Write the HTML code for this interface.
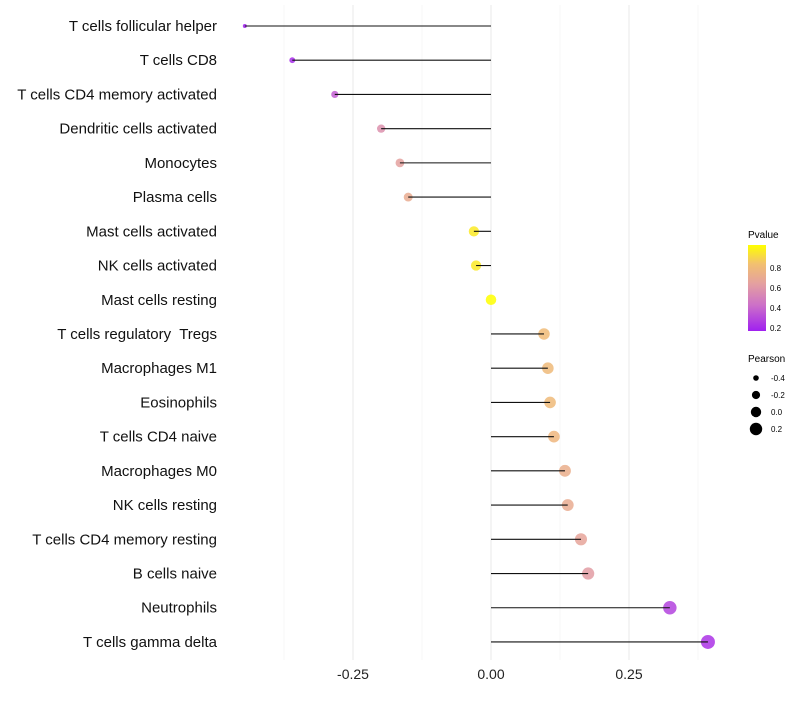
<!DOCTYPE html>
<html><head><meta charset="utf-8"><style>
body{margin:0;background:#fff;font-family:"Liberation Sans",sans-serif;}
text{white-space:pre;}
</style></head><body>
<svg id="c" width="800" height="700" xmlns="http://www.w3.org/2000/svg" font-family="Liberation Sans, sans-serif">
<defs><linearGradient id="pg" x1="0" y1="1" x2="0" y2="0">
<stop offset="0" stop-color="#a020f0"/><stop offset="0.3" stop-color="#cc70c8"/><stop offset="0.55" stop-color="#e4a0a0"/><stop offset="0.78" stop-color="#f2c070"/><stop offset="1" stop-color="#ffff00"/></linearGradient></defs>
<g id="grid"></g><g id="marks"></g><g id="ylab"></g><g id="xlab"></g>
<g>
<text x="748" y="238" font-size="10">Pvalue</text>
<rect x="748" y="245" width="18" height="86" fill="url(#pg)"/>
<text x="770" y="271" font-size="8">0.8</text><text x="770" y="291" font-size="8">0.6</text>
<text x="770" y="311" font-size="8">0.4</text><text x="770" y="331" font-size="8">0.2</text>
</g>
<g>
<text x="748" y="362" font-size="10">Pearson</text>
<circle cx="756" cy="378" r="2.8"/><text x="771" y="381" font-size="8">-0.4</text>
<circle cx="756" cy="395" r="4.1"/><text x="771" y="398" font-size="8">-0.2</text>
<circle cx="756" cy="412" r="5.2"/><text x="771" y="415" font-size="8">0.0</text>
<circle cx="756" cy="429" r="6.2"/><text x="771" y="432" font-size="8">0.2</text>
</g>
</svg>
<script>
const categories=["T cells follicular helper","T cells CD8","T cells CD4 memory activated","Dendritic cells activated","Monocytes","Plasma cells","Mast cells activated","NK cells activated","Mast cells resting","T cells regulatory  Tregs","Macrophages M1","Eosinophils","T cells CD4 naive","Macrophages M0","NK cells resting","T cells CD4 memory resting","B cells naive","Neutrophils","T cells gamma delta"];
const pearson=[-0.446,-0.36,-0.283,-0.199,-0.165,-0.150,-0.031,-0.027,0.0,0.096,0.103,0.107,0.114,0.134,0.139,0.163,0.176,0.324,0.393];
const pvalue=[0.12,0.2,0.35,0.55,0.62,0.68,0.93,0.93,0.99,0.78,0.77,0.77,0.75,0.7,0.68,0.64,0.6,0.27,0.22];
const xticks=[-0.25,0,0.25];
const xtickLabels=["-0.25","0.00","0.25"];
const NS="http://www.w3.org/2000/svg";
const x=v=>491+v*552;
const y=i=>26+i*34.22;
const stops=[[0,[160,32,240]],[0.3,[204,112,200]],[0.55,[228,160,160]],[0.78,[242,192,112]],[1,[255,255,0]]];
function col(p){let t=(p-0.16)/(0.99-0.16);t=Math.max(0,Math.min(1,t));
for(let k=1;k<stops.length;k++){if(t<=stops[k][0]){const a=stops[k-1],b=stops[k];const f=(t-a[0])/(b[0]-a[0]);
return "rgb("+a[1].map((c,j)=>Math.round(c+(b[1][j]-c)*f)).join(",")+")";}}return "rgb(255,255,0)";}
const rad=v=>Math.sqrt(Math.max(3,27.9+53.6*v));
function mk(tag,attrs,parent){const e=document.createElementNS(NS,tag);for(const k in attrs)e.setAttribute(k,attrs[k]);document.getElementById(parent).appendChild(e);return e;}
[-0.375,-0.125,0.125,0.375].forEach(v=>{const l=mk("line",{x1:x(v),x2:x(v),y1:5,y2:660,stroke:"#f2f2f2","stroke-width":0.6},"grid");

});
xticks.forEach((v,i)=>{const l=mk("line",{x1:x(v),x2:x(v),y1:5,y2:660,stroke:"#ebebeb","stroke-width":1.1},"grid");


const t=mk("text",{x:x(v),y:679,"font-size":14,"text-anchor":"middle",fill:"#222"},"xlab");t.textContent=xtickLabels[i];

});
categories.forEach((c,i)=>{
const cc=mk("circle",{cx:x(pearson[i]),cy:y(i),r:rad(pearson[i]),fill:col(pvalue[i]),"fill-opacity":0.85},"marks");


const s=mk("line",{x1:x(pearson[i]),x2:x(0),y1:y(i),y2:y(i),stroke:"#111","stroke-width":1.1},"marks");


const t=mk("text",{x:217,y:y(i)+5,"font-size":15,"text-anchor":"end",fill:"#111"},"ylab");t.textContent=c;

});
</script>
</body></html>
